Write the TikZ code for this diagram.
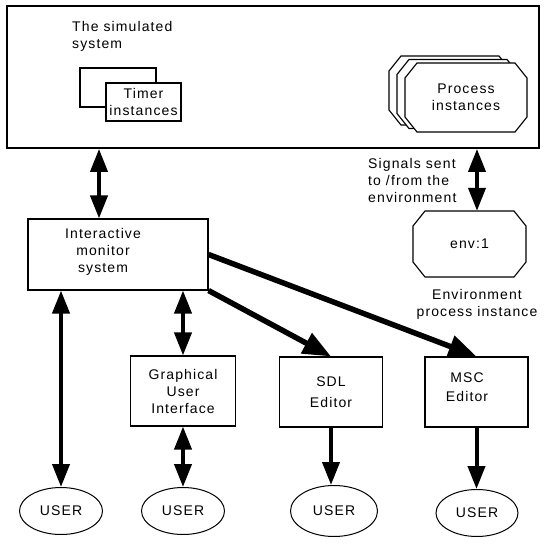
\documentclass[tikz,border=0pt]{standalone}
\usepackage{fontspec}
\setmainfont{Liberation Sans}[LetterSpace=8]
\usetikzlibrary{arrows.meta,shapes.geometric}

\newcommand\lblfont{\fontsize{14}{17}\selectfont}
% octagon: centre, half width, half height
\newcommand\octagon[3]{%
  \filldraw[octline] (#1) ++(-#2+12,-#3) -- ++(2*#2-24,0) -- ++(12,15)
    -- ++(0,2*#3-30) -- ++(-12,15) -- ++(-2*#2+24,0) -- ++(-12,-15)
    -- ++(0,-2*#3+30) -- cycle;}

\tikzset{
  txt/.style={align=center, inner sep=0pt, font=\lblfont},
  box/.style={draw, line width=1.1pt, inner sep=0pt, align=center, font=\lblfont},
  octline/.style={fill=white, line width=1.1pt},
  user/.style={draw, ellipse, line width=1pt, inner sep=0pt, font=\lblfont,
    minimum width=83pt, minimum height=47pt},
  link/.style={line width=4pt, -{Triangle[length=23pt,width=17pt]}},
  dlink/.style={line width=4pt,
    {Triangle[length=23pt,width=17pt]}-{Triangle[length=23pt,width=17pt]}},
  diag/.style={line width=5.5pt, -{Triangle[length=28pt,width=22pt]}}
}

\begin{document}
\begin{tikzpicture}[x=1pt, y=-1pt]
  \useasboundingbox (0,0) rectangle (547,546);

  % the simulated system
  \node[box, line width=1.8pt, minimum width=532pt, minimum height=142pt] (sim) at (273,77) {};
  \node[txt, align=left, anchor=west] (simlbl) at (72,36) {The simulated\\system};

  \node[box, minimum width=76pt, minimum height=39pt] (timerback) at (118,87.5) {};
  \node[box, fill=white, minimum width=75pt, minimum height=38pt] (timer) at (143.5,102) {Timer\\instances};

  \octagon{450,90.5}{61}{34.5}
  \octagon{458,94}{61}{34.5}
  \octagon{466,97.5}{61}{34.5}
  \node[txt, minimum width=122pt, minimum height=69pt] (proc) at (466,97.5) {Process\\instances};

  % environment
  \octagon{469.5,244}{56.5}{33}
  \node[txt, minimum width=113pt, minimum height=66pt] (env) at (469.5,244) {env:1};
  \node[txt] (envlbl) at (477,304) {Environment\\process instance};
  \node[txt, align=left, anchor=west] (siglbl) at (368,180) {Signals sent\\to /from the\\environment};

  % monitor and tools
  \node[box, minimum width=180pt, minimum height=71pt] (ims) at (118,254.5) {};
  \node[txt] (imslbl) at (103,252) {Interactive\\monitor\\system};

  \node[box, minimum width=105pt, minimum height=70pt] (gui) at (183,391) {Graphical\\User\\Interface};
  \node[box, minimum width=103pt, minimum height=70pt] (sdl) at (331,392) {SDL\\[4pt]Editor};
  \node[box, minimum width=103pt, minimum height=70pt] (msc) at (476.5,392) {};
  \node[txt] (msclbl) at (467,387) {MSC\\[2pt]Editor};

  % users
  \node[user] (user1) at (61,511) {USER};
  \node[user] (user2) at (183,511) {USER};
  \node[user, minimum width=87pt, minimum height=51pt] (user3) at (334,511) {USER};
  \node[user, minimum width=82pt] (user4) at (477,513) {USER};

  % connections
  \coordinate (imsIn) at ([xshift=-19pt]ims.north);
  \coordinate (envIn) at ([xshift=7.5pt]env.north);
  \draw[dlink] (imsIn |- sim.south) -- (imsIn);
  \draw[dlink] (envIn |- sim.south) -- (envIn);

  \draw[dlink] (user1.north |- ims.south) -- (user1.north);
  \draw[dlink] (gui.north |- ims.south) -- (gui.north);
  \draw[dlink] (gui.south) -- (user2.north);
  \draw[link] (sdl.south) -- (sdl.south |- user3.north);
  \draw[link] (msc.south) -- (msc.south |- user4.north);

  \draw[diag] (ims.south east) -- (sdl.north);
  \draw[diag] (ims.east) -- (msc.north);
\end{tikzpicture}
\end{document}
